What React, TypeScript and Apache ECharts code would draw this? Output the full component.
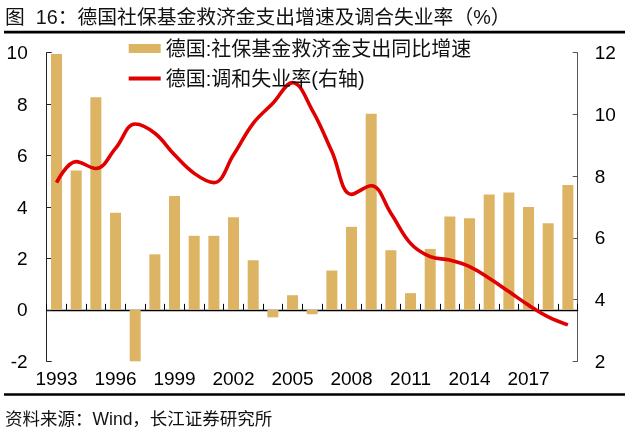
import React, { useEffect, useRef } from "react";
import * as echarts from "echarts";

const years = [
  "1993", "1994", "1995", "1996", "1997", "1998", "1999", "2000", "2001",
  "2002", "2003", "2004", "2005", "2006", "2007", "2008", "2009", "2010",
  "2011", "2012", "2013", "2014", "2015", "2016", "2017", "2018", "2019",
];
const benefitGrowth = [
  9.95, 5.42, 8.27, 3.78, -2.02, 2.16, 4.43, 2.88, 2.88, 3.6, 1.93, -0.29,
  0.57, -0.17, 1.53, 3.23, 7.63, 2.32, 0.65, 2.37, 3.63, 3.56, 4.49, 4.56,
  4.0, 3.37, 4.86,
];
const unemployment = [
  7.79, 8.47, 8.25, 8.9, 9.69, 9.39, 8.69, 8.09, 7.79, 8.69, 9.71, 10.36,
  11.03, 10.14, 8.8, 7.41, 7.69, 6.8, 5.82, 5.39, 5.28, 5.07, 4.69, 4.26,
  3.82, 3.44, 3.18,
];
const barName = "德国:社保基金救济金支出同比增速";
const lineName = "德国:调和失业率(右轴)";
const titleText = "图  16：德国社保基金救济金支出增速及调合失业率（%）";
const sourceText = "资料来源：Wind，长江证券研究所";

const FONT = "Arial, 'Liberation Sans', 'Noto Sans CJK SC', sans-serif";

export default function App() {
  const ref = useRef<HTMLDivElement>(null);
  useEffect(() => {
    if (!ref.current) return;
    const chart = echarts.init(ref.current, undefined, { renderer: "svg" });
    chart.setOption({
      animation: false,
      textStyle: { fontFamily: FONT },
      grid: { left: 46.7, right: 55.3, top: 52.7, bottom: 71.7, containLabel: false },
      legend: {
        orient: "vertical",
        left: 121.7,
        top: 33.5,
        itemGap: 10,
        itemWidth: 32,
        itemHeight: 9,
        textStyle: { fontSize: 20, color: "#111", fontFamily: FONT },
        data: [
          { name: barName, icon: "rect" },
          {
            name: lineName,
            itemStyle: { opacity: 0 },
            lineStyle: { width: 4, color: "#E00000" },
          },
        ],
      },
      xAxis: [
        {
          type: "category",
          data: years,
          position: "bottom",
          axisLine: { onZero: true, onZeroAxisIndex: 0, lineStyle: { color: "#000", width: 1.3 } },
          axisTick: { show: true, inside: true, length: 6, interval: 0, lineStyle: { color: "#000" } },
          axisLabel: { show: false },
          splitLine: { show: false },
        },
        {
          type: "category",
          data: years,
          position: "bottom",
          axisLine: { show: false, onZero: false },
          axisTick: { show: false },
          axisLabel: { show: true, interval: 2, margin: 8, fontSize: 19, color: "#000", fontFamily: FONT },
          splitLine: { show: false },
        },
      ],
      yAxis: [
        {
          type: "value",
          min: -2,
          max: 10,
          interval: 2,
          position: "left",
          axisLine: { show: true, lineStyle: { color: "#222" } },
          axisTick: { show: true, inside: true, length: 5, lineStyle: { color: "#222" } },
          axisLabel: { margin: 19, fontSize: 19, color: "#000", fontFamily: FONT },
          splitLine: { show: false },
        },
        {
          type: "value",
          min: 2,
          max: 12,
          interval: 2,
          position: "right",
          axisLine: { show: true, lineStyle: { color: "#555" } },
          axisTick: { show: true, inside: true, length: 5, lineStyle: { color: "#555" } },
          axisLabel: { margin: 17, fontSize: 19, color: "#000", fontFamily: FONT },
          splitLine: { show: false },
        },
      ],
      series: [
        {
          name: barName,
          type: "bar",
          xAxisIndex: 0,
          yAxisIndex: 0,
          data: benefitGrowth,
          barWidth: 11,
          itemStyle: { color: "#DDB464" },
        },
        {
          name: lineName,
          type: "line",
          xAxisIndex: 0,
          yAxisIndex: 1,
          data: unemployment,
          smooth: 0.4,
          symbol: "none",
          lineStyle: { color: "#E00000", width: 3.6 },
          itemStyle: { color: "#E00000" },
        },
      ],
      graphic: [
        {
          type: "text",
          left: 5,
          top: 7,
          style: { text: titleText, fontSize: 19.8, fill: "#111", fontFamily: FONT },
        },
        {
          type: "rect",
          shape: { x: 4, y: 30.8, width: 621, height: 2.7 },
          style: { fill: "#000" },
        },
        {
          type: "rect",
          shape: { x: 4, y: 393.3, width: 621, height: 2.5 },
          style: { fill: "#000" },
        },
        {
          type: "text",
          left: 5,
          top: 410,
          style: { text: sourceText, fontSize: 17.5, fill: "#111", fontFamily: FONT },
        },
      ],
    });
    return () => chart.dispose();
  }, []);
  return (
    <div
      ref={ref}
      style={{ position: "fixed", left: 0, top: 0, width: 633, height: 433 }}
    />
  );
}
